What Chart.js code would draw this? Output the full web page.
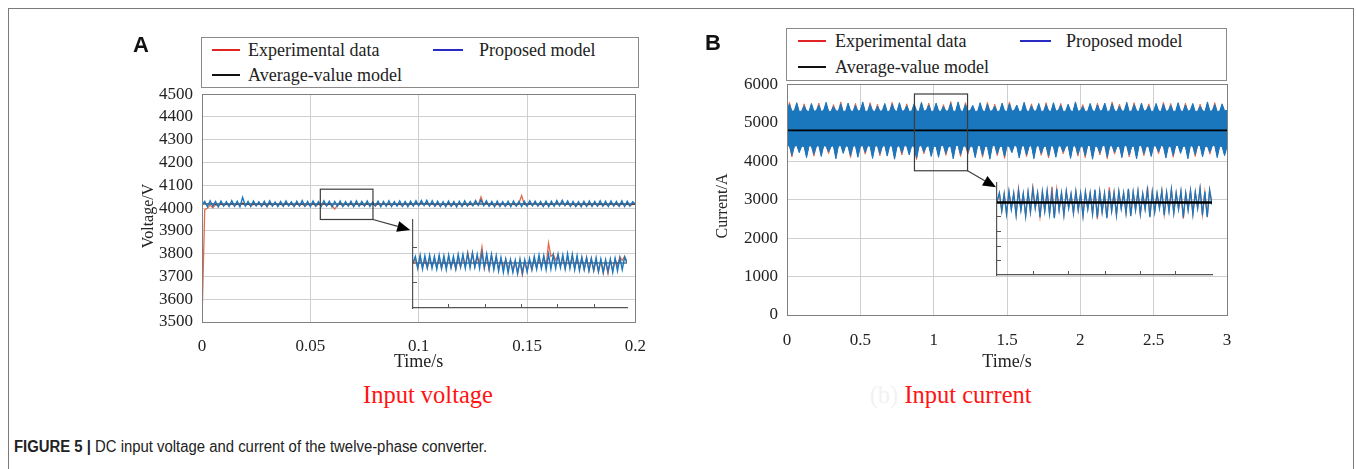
<!DOCTYPE html>
<html>
<head>
<meta charset="utf-8">
<script src="https://cdn.jsdelivr.net/npm/chart.js@4.4.1/dist/chart.umd.min.js"></script>
<style>
html,body{margin:0;padding:0;background:#fff;}
body{width:1356px;height:469px;position:relative;overflow:hidden;font-family:"Liberation Serif","Times New Roman",serif;color:#222;}
.abs{position:absolute;}
canvas{position:absolute;}
#frame{left:8px;top:8px;width:1344px;height:480px;border:1px solid #7a7a7a;}
.panel{font:bold 22px/22px "Liberation Sans",Arial,sans-serif;color:#111;}
.legend{border:1px solid #8a8a8a;background:#fff;}
.lg-line{position:absolute;height:2px;}
.lg-text{position:absolute;font-size:18px;line-height:20px;white-space:nowrap;color:#222;}
.sub{font-size:24.5px;line-height:24.5px;white-space:nowrap;transform:translate(-50%,-50%);}
.ytitle{font-size:16px;line-height:18px;white-space:nowrap;color:#222;transform:translate(-50%,-50%) rotate(-90deg);}
#caption{left:14px;top:438px;font:16px/18px "Liberation Sans Narrow","Arial Narrow","Liberation Sans",sans-serif;color:#222;white-space:nowrap;transform:scaleX(0.93);transform-origin:0 0;}
</style>
</head>
<body>
<div id="frame" class="abs"></div>

<canvas id="chartA" width="560" height="305" style="left:100px;top:75px;"></canvas>
<canvas id="insetA" width="234" height="108" style="left:403px;top:210px;"></canvas>
<canvas id="chartB" width="570" height="315" style="left:680px;top:65px;"></canvas>
<canvas id="insetB" width="235" height="112" style="left:987px;top:173px;"></canvas>

<div class="abs ytitle" style="left:148px;top:216px;">Voltage/V</div>
<div class="abs ytitle" style="left:722px;top:206px;">Current/A</div>

<div class="abs panel" style="left:133px;top:34px;">A</div>
<div class="abs panel" style="left:705px;top:32px;">B</div>

<div class="abs legend" style="left:201px;top:37px;width:436px;height:49px;">
  <div class="lg-line" style="left:10px;top:11px;width:28px;background:#e02424;"></div>
  <div class="lg-text" style="left:46px;top:2px;">Experimental data</div>
  <div class="lg-line" style="left:231px;top:11px;width:30px;background:#2a2ac4;"></div>
  <div class="lg-text" style="left:277px;top:2px;">Proposed model</div>
  <div class="lg-line" style="left:10px;top:36px;width:28px;background:#111;"></div>
  <div class="lg-text" style="left:46px;top:27px;">Average-value model</div>
</div>

<div class="abs legend" style="left:786px;top:28px;width:439px;height:51px;">
  <div class="lg-line" style="left:11px;top:11px;width:28px;background:#e02424;"></div>
  <div class="lg-text" style="left:48px;top:2px;">Experimental data</div>
  <div class="lg-line" style="left:233px;top:11px;width:31px;background:#2a2ac4;"></div>
  <div class="lg-text" style="left:279px;top:2px;">Proposed model</div>
  <div class="lg-line" style="left:11px;top:37px;width:28px;background:#111;"></div>
  <div class="lg-text" style="left:48px;top:28px;">Average-value model</div>
</div>

<div class="abs sub" style="left:884px;top:395px;color:#f2f2f2;">(b)</div>
<div class="abs sub" style="left:428px;top:395px;color:#ff1414;">Input voltage</div>
<div class="abs sub" style="left:968px;top:395px;color:#ff1414;">Input current</div>

<div id="caption" class="abs"><b>FIGURE 5 |</b> DC input voltage and current of the twelve-phase converter.</div>

<script>
// ---------------- DATA ----------------
// Panel A: input voltage (V), sampled every VOLT_DT seconds from t = 0
const VOLT_DT = 0.00125;
const voltageExperimental = [
 3500,3993,3999,4013,4001,4015,4009,4019,4011,4017,
 4012,4021,4010,4018,4013,4023,4011,4019,4009,4017,
 4012,4020,4010,4018,4008,4021,4011,4019,4013,4017,
 4010,4020,4012,4018,4009,4021,4011,4019,4008,4017,
 4011,4020,4009,4018,4012,4021,4010,4019,4011,3995,
 4013,4020,4010,4018,4012,4019,4009,4021,4011,4017,
 4010,4020,4012,4018,4009,4021,4011,4019,4013,4017,
 4010,4020,4012,4018,4009,4021,4011,4019,4012,4024,
 4013,4025,4014,4023,4012,4021,4010,4019,4009,4018,
 4011,4020,4009,4018,4012,4021,4010,4019,4011,4017,
 4013,4025,4015,4049,4014,4023,4011,4019,4009,4018,
 4011,4020,4009,4018,4012,4019,4010,4021,4055,4017,
 4011,4020,4013,4023,4012,4019,4009,4021,4011,4018,
 4013,4025,4014,4027,4012,4021,4010,4019,4009,4018,
 4011,4020,4009,4018,4012,4021,4010,4019,4011,4017,
 4010,4020,4012,4018,4009,4021,4011,4019,4010,4017,4016];
const voltageProposed = [
 4013,4030,4006,4032,4008,4029,4005,4031,4009,4028,
 4007,4033,4008,4030,4006,4047,4009,4029,4007,4031,
 4010,4028,4008,4030,4006,4032,4009,4027,4007,4029,
 4008,4031,4010,4028,4007,4030,4009,4033,4008,4029,
 4006,4031,4009,4028,4007,4032,4010,4030,4005,4029,
 4008,4031,4007,4028,4009,4030,4006,4032,4008,4029,
 4009,4031,4007,4027,4010,4030,4006,4029,4008,4032,
 4007,4028,4009,4031,4008,4029,4006,4030,4009,4032,
 4010,4033,4011,4034,4009,4032,4008,4030,4007,4028,
 4006,4031,4008,4029,4005,4030,4007,4032,4009,4029,
 4010,4033,4011,4035,4010,4032,4008,4029,4006,4031,
 4007,4028,4008,4030,4006,4031,4009,4029,4007,4030,
 4008,4032,4010,4030,4009,4029,4007,4031,4006,4030,
 4008,4033,4010,4034,4011,4031,4008,4029,4007,4028,
 4006,4030,4008,4031,4007,4029,4009,4032,4008,4030,
 4007,4031,4009,4029,4008,4032,4007,4030,4009,4028,4018];
const voltageAvgTimes = [0, 0.2];
const voltageAverage = [4018, 4018];

// Panel A inset (zoom of the boxed window)
const voltZoomWindow = [0.0546, 0.0789, 3950, 4083];   // t0, t1, v0, v1
const voltArrow = [0.0789, 3950, 0.0961, 3904];         // from (t,v) to (t,v)
const voltInsetExperimental = [
 4017,4024,4011,4026,4012,4023,4010,4025,4013,4024,
 4011,4026,4010,4023,4012,4027,4011,4024,4009,4026,
 4012,4028,4013,4034,4015,4033,4012,4026,4020,4042,
 4010,4027,4008,4029,4011,4027,4009,4024,4012,4023,
 4009,4022,4006,4020,4003,4019,4000,4020,4005,4022,
 4008,4024,4010,4026,4012,4027,4014,4048,4028,4031,
 4022,4030,4014,4026,4010,4027,4012,4028,4010,4026,
 4009,4025,4008,4026,4007,4024,4006,4022,4005,4021,
 4003,4020,4002,4022,4006,4024,4014,4027,4022,4028,4020];
const voltInsetProposed = [
 4019,4028,4010,4030,4009,4029,4011,4030,4010,4028,
 4009,4030,4010,4029,4008,4030,4011,4028,4009,4031,
 4012,4031,4010,4032,4011,4033,4012,4031,4010,4034,
 4011,4032,4009,4031,4008,4029,4006,4026,4004,4024,
 4003,4023,4004,4022,4002,4024,4003,4023,4005,4025,
 4008,4028,4009,4030,4010,4029,4008,4031,4009,4030,
 4010,4031,4011,4030,4009,4032,4010,4031,4008,4029,
 4007,4027,4008,4026,4006,4025,4007,4026,4005,4024,
 4004,4023,4005,4024,4004,4025,4006,4026,4008,4027,4018];
const voltInsetAverage = [4018, 4018];
const voltInsetTickTimes = [0.0586, 0.0628, 0.0669, 0.0709, 0.0751];
const voltInsetTickValues = [3989, 4042];

// Panel B: input current (A), envelopes sampled every CURR_DT seconds from t = 0
const CURR_DT = 1 / 60;
const currentProposedUpper = [
 5320,5480,5300,5310,5520,5290,5300,5440,5310,5290,5500,5300,
 5310,5460,5290,5320,5530,5300,5290,5420,5310,5300,5490,5290,
 5300,5510,5310,5290,5450,5300,5320,5540,5290,5300,5470,5310,
 5290,5430,5300,5310,5500,5290,5300,5480,5320,5290,5520,5300,
 5310,5440,5290,5300,5490,5310,5290,5530,5300,5320,5460,5290,
 5300,5510,5310,5290,5420,5300,5310,5500,5290,5300,5540,5310,
 5290,5470,5300,5320,5450,5290,5300,5520,5310,5290,5480,5300,
 5310,5430,5290,5300,5510,5310,5290,5490,5300,5320,5460,5290,
 5300,5530,5310,5290,5440,5300,5310,5500,5290,5300,5470,5310,
 5290,5520,5300,5320,5450,5290,5300,5480,5310,5290,5540,5300,
 5310,5420,5290,5300,5500,5310,5290,5460,5300,5320,5510,5290,
 5300,5490,5310,5290,5430,5300,5310,5530,5290,5300,5470,5310,
 5290,5510,5300,5320,5440,5290,5300,5500,5310,5290,5480,5300,
 5310,5450,5290,5300,5520,5310,5290,5460,5300,5320,5500,5290,
 5300,5430,5310,5290,5540,5300,5310,5470,5290,5300,5490,5310,
 5320];
const currentProposedLower = [
 4390,4400,4150,4380,4410,4220,4390,4380,4090,4400,4390,4180,
 4380,4410,4120,4400,4390,4240,4380,4400,4060,4390,4410,4200,
 4400,4380,4140,4390,4400,4100,4380,4410,4230,4400,4390,4070,
 4390,4400,4190,4380,4410,4130,4400,4390,4050,4380,4400,4210,
 4410,4390,4160,4400,4380,4080,4390,4410,4240,4380,4400,4120,
 4390,4380,4100,4410,4400,4200,4380,4390,4060,4400,4410,4170,
 4380,4400,4230,4390,4380,4090,4410,4400,4150,4390,4380,4050,
 4400,4410,4190,4380,4390,4120,4400,4380,4220,4410,4390,4080,
 4390,4400,4160,4380,4410,4060,4390,4400,4200,4380,4390,4130,
 4410,4380,4100,4400,4390,4240,4380,4410,4070,4390,4400,4180,
 4380,4390,4140,4410,4400,4050,4390,4380,4210,4400,4410,4110,
 4390,4400,4230,4380,4390,4090,4410,4400,4160,4380,4390,4060,
 4400,4410,4190,4390,4380,4120,4400,4390,4240,4410,4380,4080,
 4380,4390,4150,4400,4410,4200,4390,4380,4060,4400,4390,4170,
 4410,4400,4110,4380,4390,4230,4400,4410,4090,4390,4380,4140,
 4380];
const currentExperimentalUpper = [
 5280,5530,5270,5280,5470,5260,5270,5490,5280,5260,5450,5270,
 5280,5510,5260,5290,5480,5270,5260,5470,5280,5270,5540,5260,
 5270,5460,5280,5260,5500,5270,5290,5490,5260,5270,5520,5280,
 5260,5480,5270,5280,5450,5260,5270,5530,5290,5260,5470,5270,
 5280,5490,5260,5270,5440,5280,5260,5480,5270,5290,5510,5260,
 5270,5460,5280,5260,5470,5270,5280,5550,5260,5270,5490,5280,
 5260,5520,5270,5290,5400,5260,5270,5470,5280,5260,5530,5270,
 5280,5480,5260,5270,5460,5280,5260,5540,5270,5290,5410,5260,
 5270,5480,5280,5260,5490,5270,5280,5450,5260,5270,5520,5280,
 5260,5470,5270,5290,5500,5260,5270,5430,5280,5260,5490,5270,
 5280,5470,5260,5270,5450,5280,5260,5510,5270,5290,5460,5260,
 5270,5540,5280,5260,5480,5270,5280,5480,5260,5270,5520,5280,
 5260,5460,5270,5290,5490,5260,5270,5450,5280,5260,5530,5270,
 5280,5500,5260,5270,5470,5280,5260,5510,5270,5290,5450,5260,
 5270,5480,5280,5260,5490,5270,5280,5520,5260,5270,5440,5280,
 5290];
const currentExperimentalLower = [
 4410,4420,4110,4400,4420,4260,4410,4400,4140,4420,4410,4130,
 4400,4420,4170,4420,4410,4190,4400,4420,4110,4410,4420,4250,
 4420,4400,4090,4410,4420,4150,4400,4420,4180,4420,4410,4120,
 4410,4420,4140,4400,4420,4180,4420,4410,4100,4400,4420,4160,
 4420,4410,4210,4420,4400,4040,4410,4420,4190,4400,4420,4170,
 4410,4400,4150,4420,4420,4150,4400,4410,4110,4420,4420,4120,
 4400,4420,4180,4410,4400,4140,4420,4420,4100,4410,4400,4100,
 4420,4420,4140,4400,4410,4070,4420,4400,4270,4420,4410,4130,
 4410,4420,4110,4400,4420,4110,4410,4420,4150,4400,4410,4080,
 4420,4400,4150,4420,4410,4190,4400,4420,4120,4410,4420,4130,
 4400,4410,4090,4420,4420,4100,4410,4400,4160,4420,4420,4060,
 4410,4420,4180,4400,4410,4140,4420,4420,4110,4400,4410,4110,
 4420,4420,4140,4410,4400,4170,4420,4410,4190,4420,4400,4130,
 4400,4410,4100,4420,4420,4250,4410,4400,4110,4420,4410,4120,
 4420,4420,4160,4400,4410,4180,4420,4420,4140,4410,4400,4190,
 4400];
const currentAvgTimes = [0, 3];
const currentAverage = [4800, 4800];

// Panel B inset
const currZoomWindow = [0.869, 1.231, 3750, 5745];
const currArrow = [1.231, 3750, 1.425, 3322];
const currInsetExperimental = [
 4800,5260,4400,5200,4250,5340,4500,5240,4200,5500,
 4450,5220,4150,5300,4350,5580,4550,5260,4100,5320,
 4400,5360,4250,5600,4050,5460,4450,5260,4200,5350,
 4550,5220,4300,5330,4450,5240,4150,5310,4500,5260,
 4250,5420,3950,5320,4350,5240,4050,5580,4400,5280,
 4200,5340,4530,5260,4300,5460,4150,5300,4450,5360,
 4250,5220,4500,5600,4100,5310,4350,5240,4550,5370,
 4200,5290,4400,5440,4300,5260,4500,5340,3980,5250,
 4450,5380,4250,5300,4550,5490,4200,5320,4100,5410,4750];
const currInsetProposed = [
 4850,5300,4350,5250,4200,5380,4450,5280,4150,5420,
 4400,5260,4100,5350,4300,5480,4500,5300,4050,5360,
 4350,5400,4200,5320,4000,5500,4400,5300,4150,5390,
 4500,5250,4250,5370,4400,5280,4100,5350,4450,5300,
 4200,5460,4050,5360,4300,5270,4000,5420,4350,5320,
 4150,5380,4480,5300,4250,5500,4100,5340,4400,5400,
 4200,5260,4450,5450,4050,5350,4300,5280,4500,5410,
 4150,5330,4350,5480,4250,5300,4450,5380,4050,5290,
 4400,5420,4200,5340,4500,5530,4150,5360,4050,5450,4700];
const currInsetAverage = [4800, 4800];
const currInsetTickTimes = [0.930, 0.989, 1.051, 1.110, 1.169];
const currInsetTickValues = [1866, 2597, 3363, 4129];

// Axis ticks
const voltXTicks = [0, 0.05, 0.1, 0.15, 0.2];
const voltXLabels = ['0', '0.05', '0.1', '0.15', '0.2'];
const voltYTicks = [3500, 3600, 3700, 3800, 3900, 4000, 4100, 4200, 4300, 4400, 4500];
const voltYLabels = ['3500', '3600', '3700', '3800', '3900', '4000', '4100', '4200', '4300', '4400', '4500'];
const currXTicks = [0, 0.5, 1, 1.5, 2, 2.5, 3];
const currXLabels = ['0', '0.5', '1', '1.5', '2', '2.5', '3'];
const currYTicks = [0, 1000, 2000, 3000, 4000, 5000, 6000];
const currYLabels = ['0', '1000', '2000', '3000', '4000', '5000', '6000'];

// ---------------- STYLE ----------------
const SERIF = 'Liberation Serif';
Chart.defaults.font.family = SERIF;
Chart.defaults.font.size = 17;
Chart.defaults.color = '#222';
const C_RED = '#e5694a';
const C_BLUE = '#1a76bd';
const C_BLACK = '#000000';
const C_GRID = '#cfcfcf';

const uniform = (vals, t0, dt) => vals.map((v, i) => ({x: t0 + i * dt, y: v}));
const spread = (vals, t0, t1) => vals.map((v, i) => ({x: t0 + (t1 - t0) * i / (vals.length - 1), y: v}));
const pair = (ts, vs) => vs.map((v, i) => ({x: ts[i], y: v}));

// plugins
const frameBox = {
  id: 'frameBox',
  afterDraw(chart, args, o) {
    const {ctx, chartArea: a} = chart;
    ctx.save();
    ctx.strokeStyle = o.color; ctx.lineWidth = 1;
    ctx.strokeRect(Math.round(a.left) + 0.5, Math.round(a.top) + 0.5,
                   Math.round(a.right - a.left), Math.round(a.bottom - a.top));
    ctx.restore();
  }
};
const zoomMark = {
  id: 'zoomMark',
  afterDraw(chart, args, o) {
    const {ctx, scales: {x, y}} = chart;
    const [t0, t1, v0, v1] = o.box;
    const X0 = x.getPixelForValue(t0), X1 = x.getPixelForValue(t1);
    const Y0 = y.getPixelForValue(v0), Y1 = y.getPixelForValue(v1);
    ctx.save();
    ctx.strokeStyle = '#3c3c3c'; ctx.lineWidth = 1.2;
    ctx.strokeRect(X0, Y1, X1 - X0, Y0 - Y1);
    const [fa, fb, ta, tb] = o.arrow;
    const ax = x.getPixelForValue(fa), ay = y.getPixelForValue(fb);
    const bx = x.getPixelForValue(ta), by = y.getPixelForValue(tb);
    const ang = Math.atan2(by - ay, bx - ax), L = 13, W = 5.5;
    const hx = bx - L * Math.cos(ang), hy = by - L * Math.sin(ang);
    ctx.beginPath(); ctx.moveTo(ax, ay); ctx.lineTo(hx, hy); ctx.stroke();
    ctx.fillStyle = '#000';
    ctx.beginPath();
    ctx.moveTo(bx, by);
    ctx.lineTo(hx + W * Math.sin(ang), hy - W * Math.cos(ang));
    ctx.lineTo(hx - W * Math.sin(ang), hy + W * Math.cos(ang));
    ctx.closePath(); ctx.fill();
    ctx.restore();
  }
};
const insetTicks = {
  id: 'insetTicks',
  afterDraw(chart, args, o) {
    const {ctx, chartArea: a, scales: {x, y}} = chart;
    ctx.save(); ctx.strokeStyle = '#555'; ctx.lineWidth = 1;
    o.x.forEach(t => { const p = Math.round(x.getPixelForValue(t)) + 0.5;
      ctx.beginPath(); ctx.moveTo(p, a.bottom); ctx.lineTo(p, a.bottom - 4); ctx.stroke(); });
    o.y.forEach(v => { const p = Math.round(y.getPixelForValue(v)) + 0.5;
      ctx.beginPath(); ctx.moveTo(a.left, p); ctx.lineTo(a.left + 4, p); ctx.stroke(); });
    ctx.restore();
  }
};

const tickFont = () => ({family: SERIF, size: 17, weight: 'normal'});
function mainScales(c) {
  return {
    x: {
      type: 'linear', min: c.xMin, max: c.xMax,
      afterBuildTicks: s => { s.ticks = c.xTicks.map(v => ({value: v})); },
      afterFit: s => { s.height = c.xHeight; },
      ticks: {autoSkip: false, maxRotation: 0, padding: c.xPad, color: '#222',
              font: tickFont, callback: (v, i) => c.xLabels[i]},
      grid: {color: C_GRID, lineWidth: 1, drawTicks: false},
      border: {display: true, color: '#808080', width: 1},
      title: {display: true, text: 'Time/s', color: '#222', font: {family: SERIF, size: 18},
              padding: {top: 4, bottom: 4}}
    },
    y: {
      type: 'linear', min: c.yMin, max: c.yMax,
      afterBuildTicks: s => { s.ticks = c.yTicks.map(v => ({value: v})); },
      afterFit: s => { s.width = c.yWidth; },
      ticks: {autoSkip: false, padding: 9, color: '#222',
              font: tickFont, callback: (v, i) => c.yLabels[i]},
      grid: {color: C_GRID, lineWidth: 1, drawTicks: false},
      border: {display: true, color: '#808080', width: 1},
      title: {display: false}
    }
  };
}
function insetScales(c) {
  const ax = (min, max, isY) => ({
    type: 'linear', min, max,
    afterFit: s => { if (isY) s.width = 0; else s.height = 0; },
    ticks: {display: false}, grid: {display: false, drawTicks: false},
    border: {display: true, color: '#555', width: 1.2}
  });
  return {x: ax(c.xMin, c.xMax, false), y: ax(c.yMin, c.yMax, true)};
}
const line = (label, data, color, width, order, extra) =>
  Object.assign({label, data, borderColor: color, borderWidth: width, pointRadius: 0,
                 tension: 0, fill: false, order}, extra || {});
const base = {
  responsive: false, animation: false, devicePixelRatio: 1, normalized: true,
  events: []
};

// ---- Chart A ----
new Chart(document.getElementById('chartA'), {
  type: 'line',
  data: {datasets: [
    line('Average-value model', pair(voltageAvgTimes, voltageAverage), C_BLACK, 1, 1),
    line('Proposed model', uniform(voltageProposed, 0, VOLT_DT), C_BLUE, 1.4, 0),
    line('Experimental data', uniform(voltageExperimental, 0, VOLT_DT), C_RED, 1.3, 2)
  ]},
  options: Object.assign({}, base, {
    layout: {autoPadding: false, padding: {left: 34, top: 15, right: 21, bottom: 3}},
    scales: mainScales({xMin: 0, xMax: 0.2, xTicks: voltXTicks, xLabels: voltXLabels, xHeight: 55, xPad: 14,
                        yMin: 3500, yMax: 4500, yTicks: voltYTicks, yLabels: voltYLabels, yWidth: 68}),
    plugins: {legend: {display: false}, tooltip: {enabled: false},
              frameBox: {color: '#808080'},
              zoomMark: {box: voltZoomWindow, arrow: voltArrow}}
  }),
  plugins: [frameBox, zoomMark]
});

new Chart(document.getElementById('insetA'), {
  type: 'line',
  data: {datasets: [
    line('Average-value model', spread(voltInsetAverage, voltZoomWindow[0], voltZoomWindow[1]), '#1a2a44', 1.2, 1),
    line('Proposed model', spread(voltInsetProposed, voltZoomWindow[0], voltZoomWindow[1]), C_BLUE, 1.4, 0),
    line('Experimental data', spread(voltInsetExperimental, voltZoomWindow[0], voltZoomWindow[1]), C_RED, 1.3, 2)
  ]},
  options: Object.assign({}, base, {
    layout: {autoPadding: false, padding: 10},
    scales: insetScales({xMin: voltZoomWindow[0], xMax: voltZoomWindow[1], yMin: voltZoomWindow[2], yMax: voltZoomWindow[3]}),
    plugins: {legend: {display: false}, tooltip: {enabled: false},
              insetTicks: {x: voltInsetTickTimes, y: voltInsetTickValues}}
  }),
  plugins: [insetTicks]
});

// ---- Chart B ----
new Chart(document.getElementById('chartB'), {
  type: 'line',
  data: {datasets: [
    line('Average-value model', pair(currentAvgTimes, currentAverage), C_BLACK, 1.8, 0),
    line('Proposed model (upper)', uniform(currentProposedUpper, 0, CURR_DT), C_BLUE, 1, 1,
         {fill: '+1', backgroundColor: C_BLUE}),
    line('Proposed model (lower)', uniform(currentProposedLower, 0, CURR_DT), C_BLUE, 1, 1),
    line('Experimental data (upper)', uniform(currentExperimentalUpper, 0, CURR_DT), C_RED, 1, 3),
    line('Experimental data (lower)', uniform(currentExperimentalLower, 0, CURR_DT), C_RED, 1, 3)
  ]},
  options: Object.assign({}, base, {
    layout: {autoPadding: false, padding: {left: 28, top: 17, right: 23, bottom: 3}},
    scales: mainScales({xMin: 0, xMax: 3, xTicks: currXTicks, xLabels: currXLabels, xHeight: 62, xPad: 15,
                        yMin: 0, yMax: 6000, yTicks: currYTicks, yLabels: currYLabels, yWidth: 79}),
    plugins: {legend: {display: false}, tooltip: {enabled: false},
              filler: {propagate: false},
              frameBox: {color: '#808080'},
              zoomMark: {box: currZoomWindow, arrow: currArrow}}
  }),
  plugins: [frameBox, zoomMark]
});

new Chart(document.getElementById('insetB'), {
  type: 'line',
  data: {datasets: [
    line('Average-value model', spread(currInsetAverage, currZoomWindow[0], currZoomWindow[1]), C_BLACK, 2.4, 0),
    line('Proposed model', spread(currInsetProposed, currZoomWindow[0], currZoomWindow[1]), C_BLUE, 1.3, 1),
    line('Experimental data', spread(currInsetExperimental, currZoomWindow[0], currZoomWindow[1]), C_RED, 1.3, 2)
  ]},
  options: Object.assign({}, base, {
    layout: {autoPadding: false, padding: 10},
    scales: insetScales({xMin: currZoomWindow[0], xMax: currZoomWindow[1], yMin: 1100, yMax: 5800}),
    plugins: {legend: {display: false}, tooltip: {enabled: false},
              insetTicks: {x: currInsetTickTimes, y: currInsetTickValues}}
  }),
  plugins: [insetTicks]
});
</script>
</body>
</html>
